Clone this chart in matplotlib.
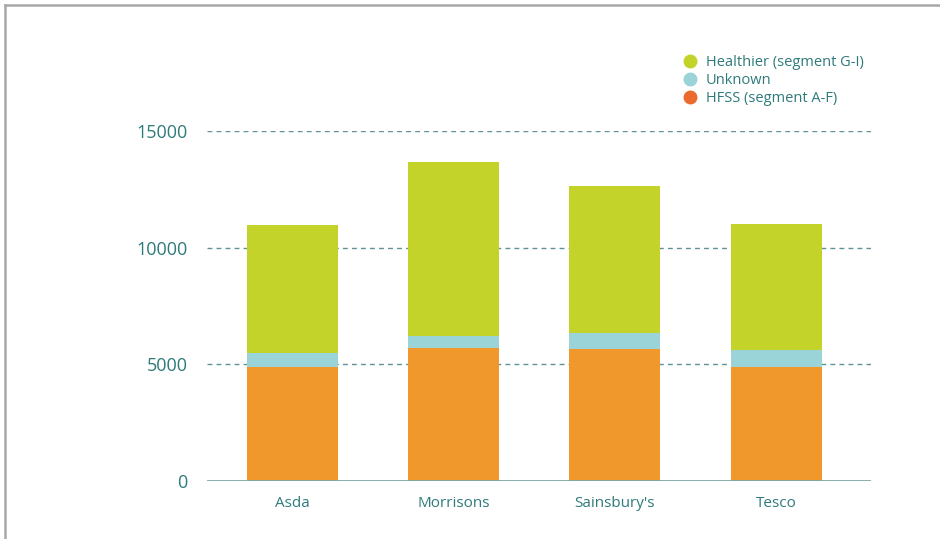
import matplotlib.pyplot as plt
from matplotlib.lines import Line2D
import numpy as np

stores = ['Asda', 'Morrisons', "Sainsbury's", 'Tesco']
hfss = [4870, 5690, 5640, 4870]
unknown = [630, 520, 690, 740]
healthier = [5450, 7460, 6330, 5400]

green = '#c4d32a'
blue = '#9ad3d8'
orange = '#f0982b'
legend_orange = '#eb6a2d'
teal = '#2f7a7a'

plt.rcParams['font.family'] = ['Open Sans', 'DejaVu Sans']

fig = plt.figure(figsize=(9.4, 5.39), dpi=100)
ax = fig.add_axes([0.220, 0.1076, 0.707, 0.6494])

x = np.arange(len(stores))
w = 0.565
hfss = np.array(hfss)
unknown = np.array(unknown)
healthier = np.array(healthier)
ax.bar(x, hfss, w, color=orange, zorder=3)
ax.bar(x, unknown, w, bottom=hfss, color=blue, zorder=3)
ax.bar(x, healthier, w, bottom=hfss + unknown, color=green, zorder=3)

ax.set_xlim(-0.53, 3.59)
ax.set_ylim(0, 15000)
ax.set_yticks([0, 5000, 10000, 15000])
ax.set_xticks(x)
ax.set_xticklabels(stores)
for v in [5000, 10000, 15000]:
    ax.axhline(v, color='#5d9296', lw=1, ls=(0, (3.5, 3)), zorder=1)
ax.axhline(0, color='#7aa9a6', lw=2, zorder=4)

for s in ax.spines.values():
    s.set_visible(False)
ax.tick_params(length=0)
ax.tick_params(axis='y', labelsize=13, colors=teal, pad=14)
ax.tick_params(axis='x', labelsize=11, colors=teal, pad=11)

handles = [Line2D([], [], marker='o', ls='', color=c, markersize=9)
           for c in [green, blue, legend_orange]]
fig.legend(handles, ['Healthier (segment G-I)', 'Unknown', 'HFSS (segment A-F)'],
           loc='upper left', bbox_to_anchor=(0.72, 0.908), frameon=False,
           fontsize=10.5, labelcolor=teal, handletextpad=0.6, labelspacing=0.2,
           handlelength=1.0, borderaxespad=0)

fig.add_artist(Line2D([0.005, 1], [0.991, 0.991], color='#a8a8a8', lw=1.8))
fig.add_artist(Line2D([0.005, 0.005], [0, 0.991], color='#a8a8a8', lw=1.8))

fig.savefig('out.png', dpi=100)
